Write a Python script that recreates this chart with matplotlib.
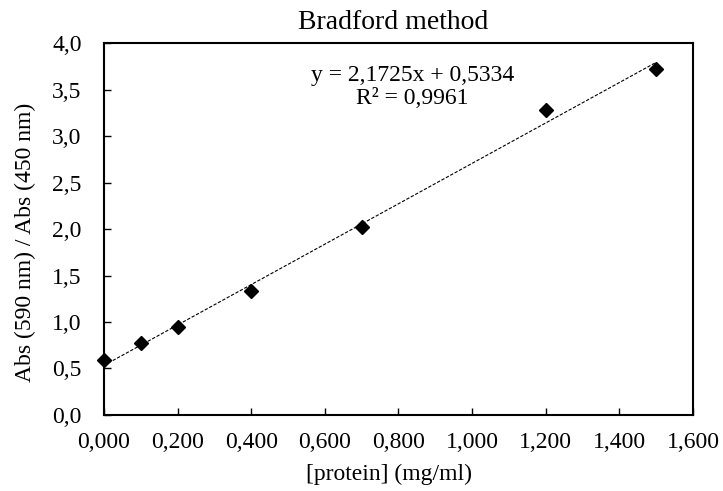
import matplotlib.pyplot as plt
import numpy as np
from matplotlib.ticker import FuncFormatter

plt.rcParams['font.family'] = ['Liberation Serif', 'DejaVu Serif']

# standard curve: protein concentration vs absorbance ratio
conc = [0.0, 0.1, 0.2, 0.4, 0.7, 1.2, 1.5]
ratio = [0.59, 0.77, 0.95, 1.33, 2.02, 3.28, 3.72]

# linear trendline
slope = 2.1725
intercept = 0.5334
r2 = 0.9961


def comma(fmt):
    return FuncFormatter(lambda v, p: fmt.format(v).replace('.', ','))


fig = plt.figure(figsize=(7.23, 4.91), dpi=100)
ax = fig.add_axes([0.1438, 0.1548, 0.8147, 0.7576])

xfit = np.array([conc[0], conc[-1]])
ax.plot(xfit, slope * xfit + intercept, color='black', lw=0.8,
        linestyle=(0, (3, 1.5)), zorder=2)
ax.plot(conc, ratio, linestyle='none', marker='D', markersize=7,
        color='black', zorder=3, clip_on=False)

ax.set_xlim(0, 1.6)
ax.set_ylim(0, 4.0)
ax.set_xticks(np.arange(0, 1.61, 0.2))
ax.set_yticks(np.arange(0, 4.01, 0.5))
ax.xaxis.set_major_formatter(comma('{:.3f}'))
ax.yaxis.set_major_formatter(comma('{:.1f}'))
ax.tick_params(direction='in', length=5, width=1, labelsize=17)
ax.tick_params(axis='x', pad=12)
ax.tick_params(axis='y', pad=16)

for s in ax.spines.values():
    s.set_linewidth(1.5)

eq = 'y = {:.4f}x + {:.4f}'.format(slope, intercept).replace('.', ',')
rr = 'R² = {:.4f}'.format(r2).replace('.', ',')
ax.text(0.838, 3.527, eq + '\n' + rr, ha='center', va='center',
        fontsize=17, linespacing=1.1)

ax.text(0.4915, 1.056, 'Bradford method', transform=ax.transAxes,
        ha='center', va='center', fontsize=20)
ax.set_xlabel('[protein] (mg/ml)', fontsize=17)
ax.set_ylabel('Abs (590 nm) / Abs (450 nm)', fontsize=17)
ax.xaxis.set_label_coords(0.484, -0.161)
ax.yaxis.set_label_coords(-0.134, 0.465)
ax.xaxis.label.set_va('center')
ax.yaxis.label.set_va('center')

fig.savefig('out.png', dpi=100)
